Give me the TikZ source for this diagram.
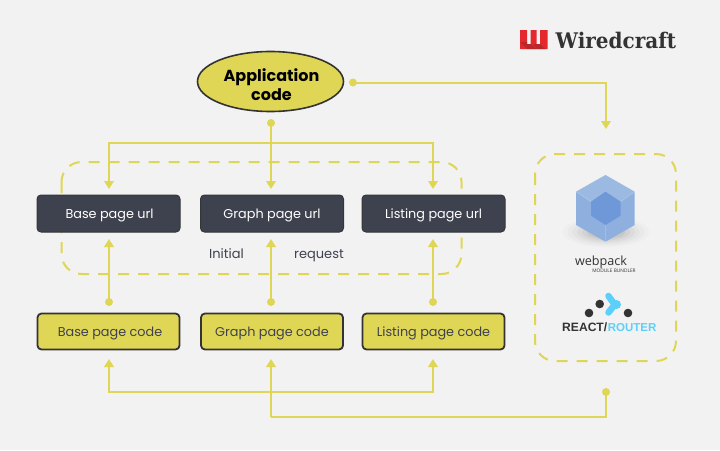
\documentclass[tikz,border=0pt]{standalone}
\usepackage{fontspec}
\setmainfont{Poppins}
\newfontfamily\logofont[FakeStretch=.93]{DejaVu Serif}
\newfontfamily\wpfont{Open Sans}
\newfontfamily\rrfont{Liberation Sans}
\usetikzlibrary{arrows.meta,shapes.geometric}
\definecolor{bgc}{HTML}{F2F2F2}
\definecolor{yel}{HTML}{E0D655}
\definecolor{dark}{HTML}{3E424E}
\definecolor{edge}{HTML}{333333}
\definecolor{wblue}{HTML}{8FB0DE}
\definecolor{wblueb}{HTML}{6F98D8}
\definecolor{rblue}{HTML}{5BD0FA}
\definecolor{wred}{HTML}{E5282E}
\definecolor{wredd}{HTML}{B7282C}
\tikzset{
  x=1pt,y=-1pt,
  urlbox/.style={rectangle,rounded corners=4pt,fill=dark,draw=edge!80!dark,line width=1pt,minimum width=143pt,minimum height=37pt,text=white,font=\fontsize{12.8}{15}\selectfont,inner sep=0pt,text height=10pt,text depth=1pt},
  codebox/.style={rectangle,rounded corners=4pt,fill=yel,draw=edge,line width=1.8pt,minimum width=142pt,minimum height=36pt,text=dark,font=\fontsize{12.8}{15}\selectfont,inner sep=0pt,text height=10pt,text depth=1pt},
  appnode/.style={ellipse,fill=yel,draw=edge,line width=1.6pt,minimum width=146pt,minimum height=60pt,inner sep=0pt,align=center,text=black,font=\fontsize{16}{19}\selectfont\bfseries},
  dotnode/.style={circle,fill=yel,minimum size=8pt,inner sep=0pt},
  conn/.style={draw=yel,line width=2pt},
  arr/.style={conn,-{Triangle[length=8pt,width=9.5pt]}},
  dashbox/.style={draw=yel,line width=2pt,dash pattern=on 11pt off 9pt,rounded corners=20pt},
  plain/.style={text=dark,font=\fontsize{13}{15}\selectfont,inner sep=0pt,text height=10pt,text depth=1pt},
}
\begin{document}
\begin{tikzpicture}
\useasboundingbox (0,0) rectangle (720,450);
\fill[bgc] (0,0) rectangle (720,450);
% dashed groups
\draw[dashbox] (61.5,162) rectangle (461.5,274);
\draw[dashbox] (535,154) rectangle (676,361);
% boxes
\node[appnode] (app) at (270.5,81.5) {\hspace*{2pt}\rule{0pt}{20pt}Application\\\hspace*{2pt}code};
\node[urlbox] (ub) at (108.5,213.5) {\hspace*{2pt}Base page url};
\node[urlbox] (ug) at (272,213.5) {Graph page url};
\node[urlbox] (ul) at (433.5,213.5) {Listing page url};
\node[codebox] (cb) at (108.5,331.5) {\hspace*{3pt}Base page code};
\node[codebox] (cg) at (272,331.5) {Graph page code};
\node[codebox] (cl) at (433.5,331.5) {Listing page code};
\node[plain] (ini) at (226.5,254) {Initial};
\node[plain] (req) at (319,254) {request};
% dots and anchors
\node[dotnode] (dapp) at (271,123) {};
\node[dotnode] (dright) at (353,82.5) {};
\node[dotnode] (db) at (109,302) {};
\node[dotnode] (dg) at (271,302) {};
\node[dotnode] (dl) at (433,302) {};
\node[dotnode] (dstack) at (606,392) {};
\coordinate (sp) at (271,143);
\coordinate (stacktop) at (606,129);
\coordinate (lowb) at (109,359);
\coordinate (lowg) at (271,359);
\coordinate (lowl) at (433,359);
\coordinate (lowturn) at (271,417);
% connectors
\draw[conn] (dapp.center) -- (sp);
\draw[arr] (dapp.center) -- (271,189);
\draw[arr] (sp) -| (109,189);
\draw[arr] (sp) -| (433,189);
\draw[arr] (dright.center) -| (stacktop);
\draw[arr] (db.center) -- (109,239);
\draw[arr] (dg.center) -- (271,239);
\draw[arr] (dl.center) -- (433,239);
\draw[arr] (lowturn) -- (lowg);
\draw[arr] (271,392) -| (lowb);
\draw[arr] (271,392) -| (lowl);
\draw[conn,line join=miter] (lowturn) -- (dstack.center |- lowturn) -- (dstack.center);
% webpack logo
\foreach \r/\o in {36/.015,32/.02,28/.025,24/.03,20/.04,16/.05}{
  \fill[black,opacity=\o] (606,232) ellipse ({\r*1.2} and {\r*.42});
}
\fill[wblue] (605.5,175) -- (634.7,191.7) -- (634.7,225) -- (605.5,241.7) -- (576,225) -- (576,191.7) -- cycle;
\fill[white,opacity=.12] (605.5,175) -- (634.7,191.7) -- (620.7,201.7) -- (605.5,191.7) -- (591,201.7) -- (576,191.7) -- cycle;
\draw[white,opacity=.25,line width=.5pt] (576,191.7) -- (591,201.7) (634.7,191.7) -- (620.7,201.7) (605.5,241.7) -- (605.5,225);
\fill[wblueb] (605.5,191.7) -- (620.7,201.7) -- (620.7,215.7) -- (605.5,225) -- (591,215.7) -- (591,201.7) -- cycle;
\node[inner sep=0pt,text=edge,font=\wpfont\fontsize{12.6}{15}\selectfont] (wp) at (601,262) {webpack};
\node[inner sep=0pt,text=edge,font=\wpfont\fontsize{4.8}{6}\selectfont] (wpsub) at (614,271) {MODULE BUNDLER};
% react router logo
\fill[edge] (589,313) circle (4.3) (599.7,304) circle (4.3) (628,313) circle (4.3);
\draw[rblue,line width=6.5pt,line cap=round,line join=round] (608.5,296) .. controls (612,301) and (614,304) .. (616,304.5) .. controls (614,305) and (612,308) .. (608.5,312.5);
\fill[rblue] (616.5,304.5) circle (4.5);
\node[inner sep=0pt,text=edge,font=\rrfont\fontsize{12.1}{13}\selectfont\bfseries,anchor=west] (rr) at (562,327.5) {REACT/};
\node[inner sep=0pt,text=rblue,font=\rrfont\fontsize{11.5}{13}\selectfont\bfseries,anchor=east] (rr2) at (656.5,327.5) {ROUTER};
% wiredcraft logo
\fill[wred] (520,30) -- (527,30) -- (527,44) -- (530.5,44) -- (530.5,30) -- (536.5,30) -- (536.5,44) -- (540,44) -- (540,30) -- (547.5,30) -- (547.5,49) -- (520,49) -- cycle;
\fill[wredd] (520,42) -- (527,49) -- (536.5,49) -- (530.5,44) -- (527,44) -- (527,42) -- cycle;
\fill[wredd] (533,44) -- (536.5,44) -- (540,44) -- (545,49) -- (537,49) -- cycle;
\node[inner sep=0pt,anchor=west,text=edge,font=\logofont\fontsize{21.5}{22}\selectfont\bfseries] (wc) at (555.5,40) {Wiredcraft};
\end{tikzpicture}
\end{document}
